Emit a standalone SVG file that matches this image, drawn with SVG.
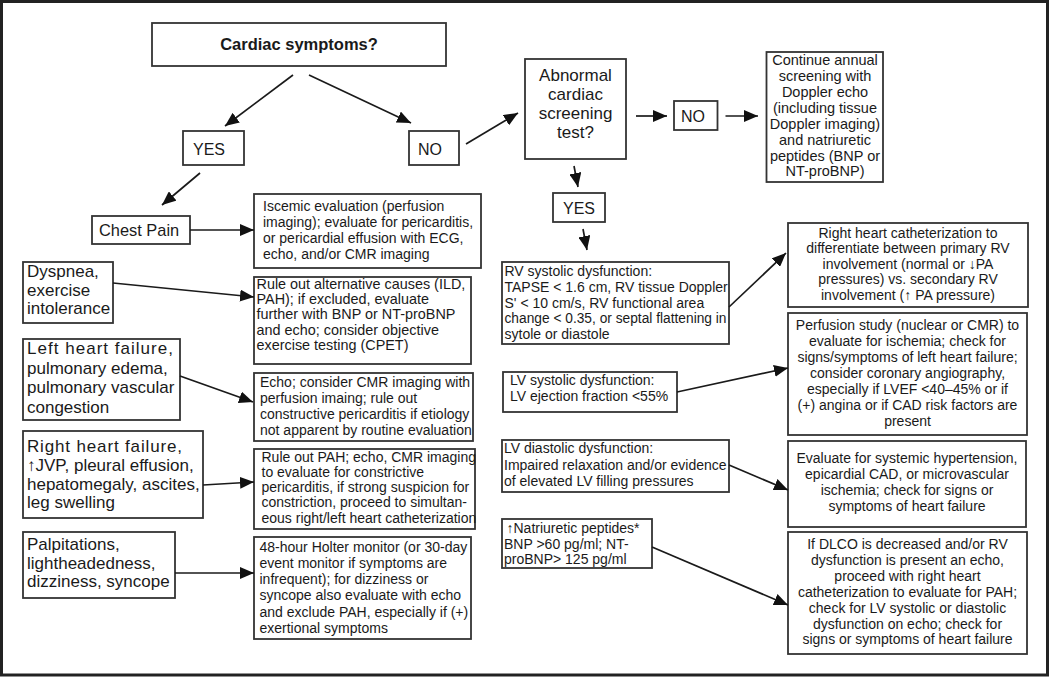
<svg xmlns="http://www.w3.org/2000/svg" width="1050" height="677" viewBox="0 0 1050 677">
<style>
.bg{fill:#fff}
.frame{fill:none;stroke:#222;stroke-width:3}
.box{fill:#fff;stroke:#333;stroke-width:1.8}
text{font-family:"Liberation Sans",Arial,sans-serif;fill:#1a1a1a}
.s14{font-size:14px}
.s144{font-size:14.4px}
.s145{font-size:14.5px}
.s16{font-size:16px}
.s17{font-size:17px}
.b{font-weight:bold}
.c{text-anchor:middle}
.conn line{stroke:#1a1a1a;stroke-width:1.7;marker-end:url(#ah)}
</style>
<defs>
<marker id="ah" markerUnits="userSpaceOnUse" markerWidth="15" markerHeight="12" refX="14" refY="6" orient="auto">
<path d="M0,0 L14,6 L0,12 z" fill="#111"/>
</marker>
</defs>
<rect class="bg" x="0" y="0" width="1050" height="677"/>
<rect class="frame" x="1.5" y="1.5" width="1046" height="673.5"/>

<g id="cardiac">
<rect class="box" x="152" y="23" width="294" height="43"/>
<text class="b c" x="299" y="49.5" style="font-size:16.5px">Cardiac symptoms?</text>
</g>
<g id="yes1">
<rect class="box" x="183" y="131" width="61" height="34"/>
<text class="s16" x="193" y="155">YES</text>
</g>
<g id="no1">
<rect class="box" x="409" y="131" width="50" height="34"/>
<text class="s16" x="418" y="155">NO</text>
</g>
<g id="abnormal">
<rect class="box" x="525" y="59" width="101" height="100"/>
<text class="s17 c"><tspan x="575.5" y="81">Abnormal</tspan><tspan x="575.5" y="100">cardiac</tspan><tspan x="575.5" y="119">screening</tspan><tspan x="575.5" y="138">test?</tspan></text>
</g>
<g id="no2">
<rect class="box" x="674" y="101" width="43.5" height="29"/>
<text class="s16" x="681" y="122">NO</text>
</g>
<g id="continue">
<rect class="box" x="766.5" y="52" width="116.5" height="130"/>
<text class="s145 c"><tspan x="825" y="65">Continue annual</tspan><tspan x="825" y="81">screening with</tspan><tspan x="825" y="97">Doppler echo</tspan><tspan x="825" y="113">(including tissue</tspan><tspan x="825" y="129">Doppler imaging)</tspan><tspan x="825" y="145">and natriuretic</tspan><tspan x="825" y="160.5">peptides (BNP or</tspan><tspan x="825" y="176">NT-proBNP)</tspan></text>
</g>
<g id="yes2">
<rect class="box" x="553" y="193" width="52" height="29"/>
<text class="s16 c" x="579" y="214">YES</text>
</g>
<g id="chestpain">
<rect class="box" x="92" y="216" width="98" height="28"/>
<text x="99" y="236" style="font-size:16.4px">Chest Pain</text>
</g>
<g id="iscemic">
<rect class="box" x="254" y="194" width="227" height="74"/>
<text class="s14"><tspan x="263" y="210.7">Iscemic evaluation (perfusion</tspan><tspan x="263" y="226.7">imaging); evaluate for pericarditis,</tspan><tspan x="263" y="242.5">or pericardial effusion with ECG,</tspan><tspan x="263" y="258.5">echo, and/or CMR imaging</tspan></text>
</g>
<g id="dyspnea">
<rect class="box" x="23" y="262" width="90" height="61"/>
<text class="s17"><tspan x="27" y="277">Dyspnea,</tspan><tspan x="27" y="295.5">exercise</tspan><tspan x="27" y="314">intolerance</tspan></text>
</g>
<g id="ruleoutalt">
<rect class="box" x="254" y="277" width="217" height="87"/>
<text class="s144"><tspan x="256.5" y="288.5">Rule out alternative causes (ILD,</tspan><tspan x="256.5" y="303.8">PAH); if excluded, evaluate</tspan><tspan x="256.5" y="319.2">further with BNP or NT-proBNP</tspan><tspan x="256.5" y="334.6">and echo; consider objective</tspan><tspan x="256.5" y="350">exercise testing (CPET)</tspan></text>
</g>
<g id="leftheart">
<rect class="box" x="23" y="339" width="157" height="81"/>
<text class="s17"><tspan x="27" y="354" textLength="146" lengthAdjust="spacing">Left heart failure,</tspan><tspan x="27" y="373.5">pulmonary edema,</tspan><tspan x="27" y="393">pulmonary vascular</tspan><tspan x="27" y="412.5">congestion</tspan></text>
</g>
<g id="echo">
<rect class="box" x="254" y="373" width="219" height="68"/>
<text class="s14"><tspan x="260" y="387">Echo; consider CMR imaging with</tspan><tspan x="260" y="403">perfusion imaing; rule out</tspan><tspan x="260" y="419.3">constructive pericarditis if etiology</tspan><tspan x="260" y="435">not apparent by routine evaluation</tspan></text>
</g>
<g id="rightheart">
<rect class="box" x="23" y="431" width="180" height="87"/>
<text class="s17"><tspan x="27" y="451.7" textLength="155" lengthAdjust="spacing">Right heart failure,</tspan><tspan x="27" y="470.7">↑JVP, pleural effusion,</tspan><tspan x="27" y="489.5">hepatomegaly, ascites,</tspan><tspan x="27" y="508.3">leg swelling</tspan></text>
</g>
<g id="ruleoutpah">
<rect class="box" x="254" y="449" width="221" height="80"/>
<text class="s14"><tspan x="261.5" y="461.5">Rule out PAH; echo, CMR imaging</tspan><tspan x="261.5" y="476.8">to evaluate for constrictive</tspan><tspan x="261.5" y="492">pericarditis, if strong suspicion for</tspan><tspan x="261.5" y="507.3">constriction, proceed to simultan-</tspan><tspan x="261.5" y="522.5">eous right/left heart catheterization</tspan></text>
</g>
<g id="palpitations">
<rect class="box" x="23" y="532" width="152" height="66"/>
<text class="s17"><tspan x="27" y="550">Palpitations,</tspan><tspan x="27" y="568.5">lightheadedness,</tspan><tspan x="27" y="587">dizziness, syncope</tspan></text>
</g>
<g id="holter">
<rect class="box" x="254" y="537" width="217" height="102"/>
<text class="s14"><tspan x="259.5" y="552">48-hour Holter monitor (or 30-day</tspan><tspan x="259.5" y="568">event monitor if symptoms are</tspan><tspan x="259.5" y="584.2">infrequent); for dizziness or</tspan><tspan x="259.5" y="600.4">syncope also  evaluate with echo</tspan><tspan x="259.5" y="616.6">and exclude PAH, especially if (+)</tspan><tspan x="259.5" y="632.8">exertional symptoms</tspan></text>
</g>
<g id="rvsys">
<rect class="box" x="502" y="262" width="227" height="82"/>
<text class="s14"><tspan x="504.5" y="276">RV systolic dysfunction:</tspan><tspan x="504.5" y="292">TAPSE &lt; 1.6 cm, RV tissue Doppler</tspan><tspan x="504.5" y="307.5">S' &lt; 10 cm/s, RV functional area</tspan><tspan x="504.5" y="323" textLength="222" lengthAdjust="spacingAndGlyphs">change &lt; 0.35, or septal flattening in</tspan><tspan x="504.5" y="339">sytole or diastole</tspan></text>
</g>
<g id="rhc">
<rect class="box" x="788" y="223" width="240" height="84"/>
<text class="s14 c"><tspan x="908" y="237.5">Right heart catheterization to</tspan><tspan x="908" y="253">differentiate between primary RV</tspan><tspan x="908" y="268.7">involvement (normal or ↓PA</tspan><tspan x="908" y="284.4">pressures) vs. secondary RV</tspan><tspan x="908" y="300">involvement (↑ PA pressure)</tspan></text>
</g>
<g id="perfusion">
<rect class="box" x="788" y="313" width="239" height="122"/>
<text class="s14 c"><tspan x="907.5" y="330">Perfusion study (nuclear or CMR) to</tspan><tspan x="907.5" y="346">evaluate for ischemia; check for</tspan><tspan x="907.5" y="362">signs/symptoms of left heart failure;</tspan><tspan x="907.5" y="378">consider coronary angiography,</tspan><tspan x="907.5" y="394">especially if LVEF &lt;40–45% or if</tspan><tspan x="907.5" y="410">(+) angina or if CAD risk factors are</tspan><tspan x="907.5" y="426">present</tspan></text>
</g>
<g id="lvsys">
<rect class="box" x="503" y="372" width="174" height="40"/>
<text class="s14"><tspan x="510" y="385">LV systolic dysfunction:</tspan><tspan x="510" y="401">LV ejection fraction &lt;55%</tspan></text>
</g>
<g id="lvdia">
<rect class="box" x="502" y="440" width="227" height="52"/>
<text class="s14"><tspan x="504" y="453">LV diastolic dysfunction:</tspan><tspan x="504" y="469.5">Impaired relaxation and/or evidence</tspan><tspan x="504" y="486">of elevated LV filling pressures</tspan></text>
</g>
<g id="evaluate">
<rect class="box" x="788" y="441" width="238" height="86"/>
<text class="s14 c"><tspan x="907" y="463">Evaluate for systemic hypertension,</tspan><tspan x="907" y="479">epicardial CAD, or microvascular</tspan><tspan x="907" y="495">ischemia; check for signs or</tspan><tspan x="907" y="511">symptoms of heart failure</tspan></text>
</g>
<g id="natriuretic">
<rect class="box" x="502" y="519" width="150" height="49"/>
<text class="s14"><tspan x="506.5" y="533">↑Natriuretic peptides*</tspan><tspan x="504" y="548.5">BNP &gt;60 pg/ml; NT-</tspan><tspan x="504" y="564">proBNP&gt; 125 pg/ml</tspan></text>
</g>
<g id="dlco">
<rect class="box" x="788" y="532" width="239" height="122"/>
<text class="s14 c"><tspan x="907.5" y="549">If DLCO is decreased and/or RV</tspan><tspan x="907.5" y="565">dysfunction is present an echo,</tspan><tspan x="907.5" y="581">proceed with right heart</tspan><tspan x="907.5" y="597">catheterization to evaluate for PAH;</tspan><tspan x="907.5" y="613">check for LV systolic or diastolic</tspan><tspan x="907.5" y="628.5">dysfunction on echo; check for</tspan><tspan x="907.5" y="644">signs or symptoms of heart failure</tspan></text>
</g>

<g id="connectors" class="conn">
<line x1="293" y1="75" x2="225" y2="126"/>
<line x1="309" y1="75" x2="411" y2="123"/>
<line x1="466" y1="144" x2="518" y2="113"/>
<line x1="200" y1="173" x2="162" y2="205"/>
<line x1="190" y1="230" x2="254" y2="230"/>
<line x1="113" y1="283" x2="254" y2="297"/>
<line x1="180" y1="376" x2="253" y2="402"/>
<line x1="203" y1="485" x2="254" y2="482"/>
<line x1="175" y1="573" x2="254" y2="573"/>
<line x1="636" y1="116" x2="667" y2="116"/>
<line x1="725.5" y1="116" x2="758" y2="116"/>
<line x1="574" y1="166" x2="578" y2="187"/>
<line x1="583" y1="229" x2="587" y2="250"/>
<line x1="729" y1="307" x2="786" y2="253"/>
<line x1="677" y1="392" x2="788" y2="368"/>
<line x1="729" y1="465" x2="788" y2="490"/>
<line x1="652" y1="547" x2="788" y2="605"/>
</g>
</svg>
